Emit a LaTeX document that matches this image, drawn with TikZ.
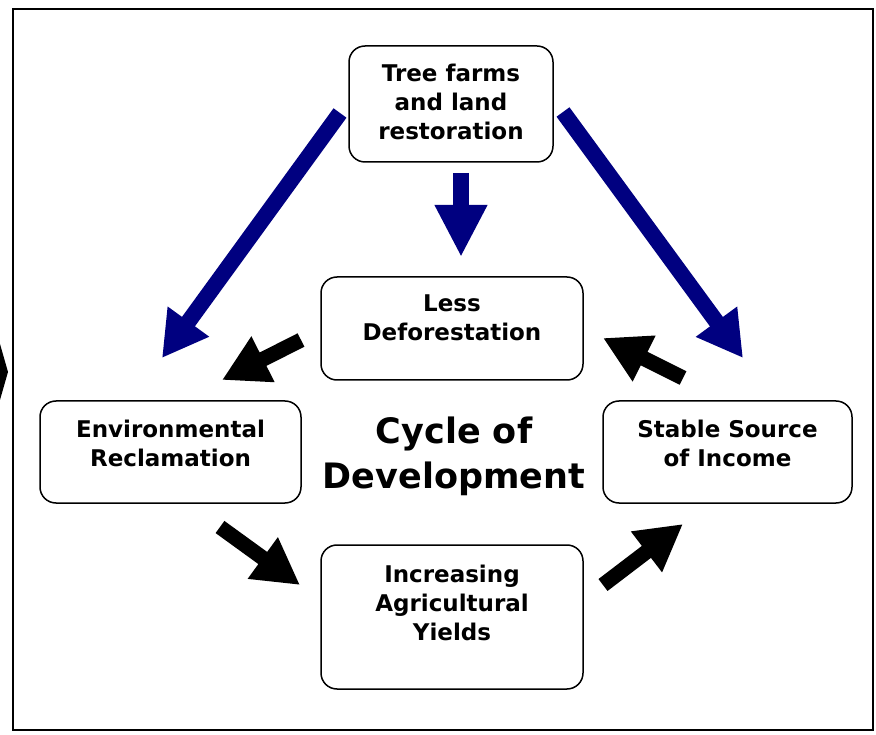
\documentclass[tikz,border=0pt]{standalone}
\usepackage{fontspec}
\setmainfont{DejaVu Sans}
\usetikzlibrary{arrows.meta}
\definecolor{navyblue}{RGB}{0,0,128}

\tikzset{
  box/.style={draw, line width=1.5pt, rounded corners=16pt, inner sep=0pt},
  lbl/.style={align=center, font=\fontsize{23}{29}\selectfont\bfseries},
  bluearrow/.style={navyblue, line width=16pt, -{Triangle[length=45pt,width=48pt]}},
  blackarrow/.style={black, line width=15pt, -{Triangle[length=46pt,width=48pt]}},
}

\begin{document}
\begin{tikzpicture}[x=1pt,y=-1pt]
	\useasboundingbox (0,0) rectangle (876,735);
	\draw[line width=2pt] (13,9) rectangle (873,730);
	\fill (0,344) -- (8,372) -- (0,400) -- cycle;
	
	% boxes
	\node[box, minimum width=204pt, minimum height=116pt] (tree) at (451,104) {};
	\node[box, minimum width=262pt, minimum height=103pt] (less) at (452,328.5) {};
	\node[box, minimum width=261pt, minimum height=102pt] (env) at (170.5,452) {};
	\node[box, minimum width=249pt, minimum height=102pt] (stable) at (727.5,452) {};
	\node[box, minimum width=262pt, minimum height=144pt] (yields) at (452,617) {};
	
	\node[lbl] (treetext) at (451,102) {Tree farms\\and land\\restoration};
	\node[lbl] (lesstext) at (452,318) {Less\\Deforestation};
	\node[lbl] (envtext) at (170.5,443) {Environmental\\Reclamation};
	\node[lbl] (stabletext) at (727.5,443) {Stable Source\\of Income};
	\node[lbl] (yieldstext) at (452,603) {Increasing\\Agricultural\\Yields};
	\node[align=center, font=\fontsize{35}{45}\selectfont\bfseries] (cycle) at (454,456) {Cycle of\\Development};
	
	% blue arrows
	\coordinate (tl-from) at (340,113);
	\coordinate (tl-to) at (162,358);
	\coordinate (tr-from) at (563,112);
	\coordinate (tr-to) at (743,358);
	\coordinate (tm-from) at (461,173);
	\coordinate (tm-to) at (461,257);
	\draw[bluearrow] (tl-from) -- (tl-to);
	\draw[bluearrow] (tr-from) -- (tr-to);
	\draw[bluearrow, -{Triangle[length=52pt,width=49pt]}] (tm-from) -- (tm-to);
	
	% black arrows
	\coordinate (le-from) at (301,340);
	\coordinate (le-to) at (222,380);
	\coordinate (ey-from) at (220,527);
	\coordinate (ey-to) at (300,585);
	\coordinate (ys-from) at (603,585);
	\coordinate (ys-to) at (683,524);
	\coordinate (sl-from) at (683,378);
	\coordinate (sl-to) at (603,338);
	\draw[blackarrow] (le-from) -- (le-to);
	\draw[blackarrow] (ey-from) -- (ey-to);
	\draw[blackarrow] (ys-from) -- (ys-to);
	\draw[blackarrow] (sl-from) -- (sl-to);
\end{tikzpicture}
\end{document}
